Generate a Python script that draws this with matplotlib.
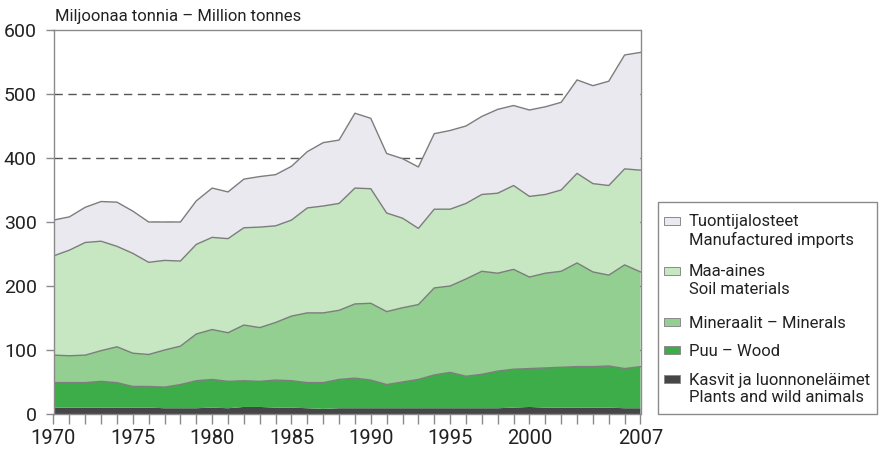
import matplotlib
matplotlib.use("Agg")
import matplotlib.pyplot as plt
import numpy as np
from matplotlib.patches import Rectangle

years = list(range(1970, 2008))
plants = [10, 10, 10, 10, 10, 10, 10, 9, 9, 9, 10, 9, 11, 11, 10, 10, 9, 8, 9, 9,
          9, 9, 9, 9, 9, 9, 9, 9, 9, 10, 11, 10, 10, 10, 10, 10, 9, 9]
wood = [39, 39, 39, 41, 39, 33, 33, 33, 37, 43, 44, 42, 41, 40, 43, 42, 40, 41, 45, 47,
        44, 37, 41, 45, 52, 56, 50, 53, 58, 60, 60, 62, 63, 64, 64, 65, 62, 65]
minerals = [43, 42, 43, 48, 56, 52, 50, 58, 60, 73, 78, 76, 87, 84, 90, 101, 109, 109, 108, 116,
            120, 114, 116, 117, 136, 135, 152, 161, 153, 156, 143, 148, 150, 162, 148, 142, 162, 148]
soil = [155, 165, 176, 171, 157, 156, 144, 140, 133, 140, 144, 147, 152, 157, 151, 150, 164, 167, 167, 181,
        179, 154, 140, 119, 123, 120, 118, 120, 125, 131, 126, 123, 127, 140, 138, 140, 150, 159]
imports = [56, 52, 55, 62, 69, 66, 63, 60, 61, 68, 77, 73, 76, 79, 80, 84, 88, 99, 99, 117,
           110, 93, 93, 96, 118, 123, 121, 122, 131, 125, 135, 137, 137, 146, 153, 163, 178, 184]

labels = [["Kasvit ja luonnoneläimet", "Plants and wild animals"],
          ["Puu – Wood"],
          ["Mineraalit – Minerals"],
          ["Maa-aines", "Soil materials"],
          ["Tuontijalosteet", "Manufactured imports"]]
colors = ["#464648", "#3cad48", "#92cf90", "#c6e7c2", "#e9e9ef"]
xtick_labels = ["1970", "1975", "1980", "1985", "1990", "1995", "2000", "2007"]
ytick_values = [0, 100, 200, 300, 400, 500, 600]

FONT = ["Roboto", "Liberation Sans", "DejaVu Sans"]
plt.rcParams['font.family'] = FONT
TXT = "#222222"
EDGE = "#8a8a8a"

W, H = 881, 454
fig = plt.figure(figsize=(W / 100, H / 100), dpi=100)
ax = fig.add_axes([53.5 / W, 40 / H, (640.5 - 53.5) / W, (414 - 30) / H])

series = [plants, wood, minerals, soil, imports]
stack = np.vstack(series)
cum = np.cumsum(stack, axis=0)
ax.stackplot(years, stack, colors=colors, linewidth=0, zorder=2)
for i in range(1, len(series)):
    ax.plot(years, cum[i], color="#7d7d7d", lw=1.0, zorder=3)

for v in [100, 200, 300, 400, 500]:
    ax.axhline(v, color="#555555", lw=1.0, ls=(0, (6, 4)), zorder=1)

ax.set_xlim(1970, 2007)
ax.set_ylim(0, 600)
ax.set_yticks(ytick_values)
ax.set_yticklabels([str(v) for v in ytick_values], fontsize=14, color=TXT)
ax.set_xticks([int(s) for s in xtick_labels])
ax.set_xticklabels(xtick_labels, fontsize=14.5, color=TXT)
ax.set_xticks(years, minor=True)
ax.tick_params(axis='x', which='both', direction='out', length=7, color=EDGE, width=1, pad=4)
ax.tick_params(axis='y', direction='out', length=6, color=EDGE, width=1, pad=6)
for s in ax.spines.values():
    s.set_color(EDGE)
    s.set_linewidth(1.0)
    s.set_zorder(4)

def fx(px):
    return px / W

def fy(py):
    return 1 - py / H

fig.text(fx(55), fy(21), "Miljoonaa tonnia – Million tonnes", fontsize=12,
         ha='left', va='baseline', color=TXT)

# legend drawn manually (square aligned with first line of each entry)
fig.patches.append(Rectangle((fx(658), fy(414)), fx(877) - fx(658), fy(202) - fy(414),
                             transform=fig.transFigure, facecolor="white",
                             edgecolor=EDGE, linewidth=1.0))
first_line_y = [378.5, 349.5, 321.5, 270.5, 220.5]
line_gap = 17.7
for i in range(len(labels)):
    y0 = first_line_y[i]
    fig.patches.append(Rectangle((fx(664), fy(y0 + 4)), fx(680) - fx(664), fy(y0 - 4) - fy(y0 + 4),
                                 transform=fig.transFigure, facecolor=colors[i],
                                 edgecolor=EDGE, linewidth=0.7))
    for j, line in enumerate(labels[i]):
        fig.text(fx(689), fy(y0 + j * line_gap), line, fontsize=12,
                 ha='left', va='center_baseline', color=TXT)

fig.savefig("out.png", dpi=100)
